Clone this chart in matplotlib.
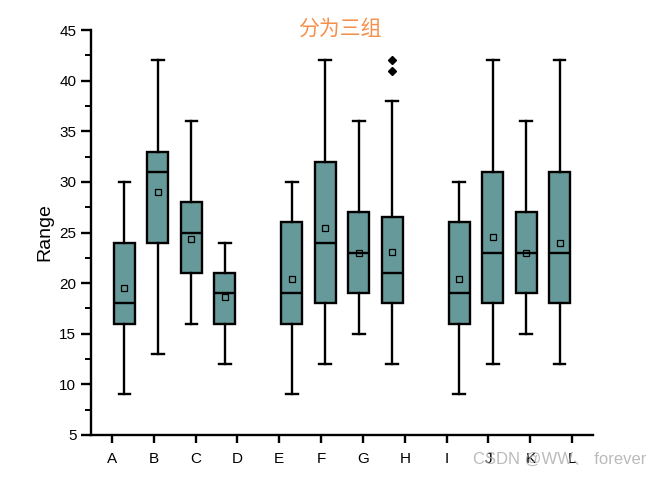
import matplotlib.pyplot as plt
from matplotlib.ticker import MultipleLocator

plt.rcParams['font.family'] = ['Liberation Sans', 'Noto Sans CJK SC', 'DejaVu Sans']

# data
labels = ['A', 'B', 'C', 'D', 'E', 'F', 'G', 'H', 'I', 'J', 'K', 'L']
low = [9, 13, 16, 12, 9, 12, 15, 12, 9, 12, 15, 12]
q1 = [16, 24, 21, 16, 16, 18, 19, 18, 16, 18, 19, 18]
med = [18, 31, 25, 19, 19, 24, 23, 21, 19, 23, 23, 23]
q3 = [24, 33, 28, 21, 26, 32, 27, 26.5, 26, 31, 27, 31]
high = [30, 42, 36, 24, 30, 42, 36, 38, 30, 42, 36, 42]
means = [19.5, 29.0, 24.4, 18.6, 20.4, 25.4, 23.0, 23.1, 20.4, 24.6, 23.0, 24.0]
outliers = [[], [], [], [], [], [], [], [41, 42], [], [], [], []]

# boxes sit in three groups, ticks are evenly spaced
pos = [1.3, 2.1, 2.9, 3.7, 5.3, 6.1, 6.9, 7.7, 9.3, 10.1, 10.9, 11.7]

stats = []
for i in range(len(labels)):
    stats.append(dict(whislo=low[i], q1=q1[i], med=med[i], q3=q3[i],
                      whishi=high[i], mean=means[i], fliers=outliers[i]))

fig = plt.figure(figsize=(6.59, 4.78), dpi=100)
ax = fig.add_axes([0.138, 0.090, 0.762, 0.847])

ax.bxp(stats, positions=pos, widths=0.5, patch_artist=True, showmeans=True,
       boxprops=dict(facecolor='#669999', edgecolor='black', linewidth=1.7),
       medianprops=dict(color='black', linewidth=1.7),
       whiskerprops=dict(color='black', linewidth=1.7),
       capprops=dict(color='black', linewidth=1.7),
       capwidths=0.28,
       meanprops=dict(marker='s', markerfacecolor='none', markeredgecolor='black',
                      markersize=4.5, markeredgewidth=0.9),
       flierprops=dict(marker='D', markerfacecolor='black', markeredgecolor='black',
                       markersize=4))

ax.set_xlim(0.5, 12.5)
ax.set_ylim(5, 45)
ax.set_xticks(range(1, 13))
ax.set_xticklabels(labels)
ax.yaxis.set_major_locator(MultipleLocator(5))
ax.yaxis.set_minor_locator(MultipleLocator(2.5))

for s in ['top', 'right']:
    ax.spines[s].set_visible(False)
for s in ['left', 'bottom']:
    ax.spines[s].set_linewidth(1.7)
ax.tick_params(axis='both', which='major', direction='out', length=7, width=1.7,
               labelsize=11, colors='black')
ax.tick_params(axis='y', which='minor', direction='out', length=4, width=1.4)
ax.tick_params(axis='x', which='major', length=6, pad=6)

ax.set_ylabel('Range', fontsize=14, labelpad=4)
fig.text(0.515, 0.94, '分为三组', fontsize=15, color='#F5904A',
         ha='center', va='center')

# watermark from the source image
fig.text(0.85, 0.038, 'CSDN @WW、 forever', fontsize=12, color='#aaaaaa',
         ha='center', va='center', alpha=0.8)

plt.savefig('out.png', dpi=100)
